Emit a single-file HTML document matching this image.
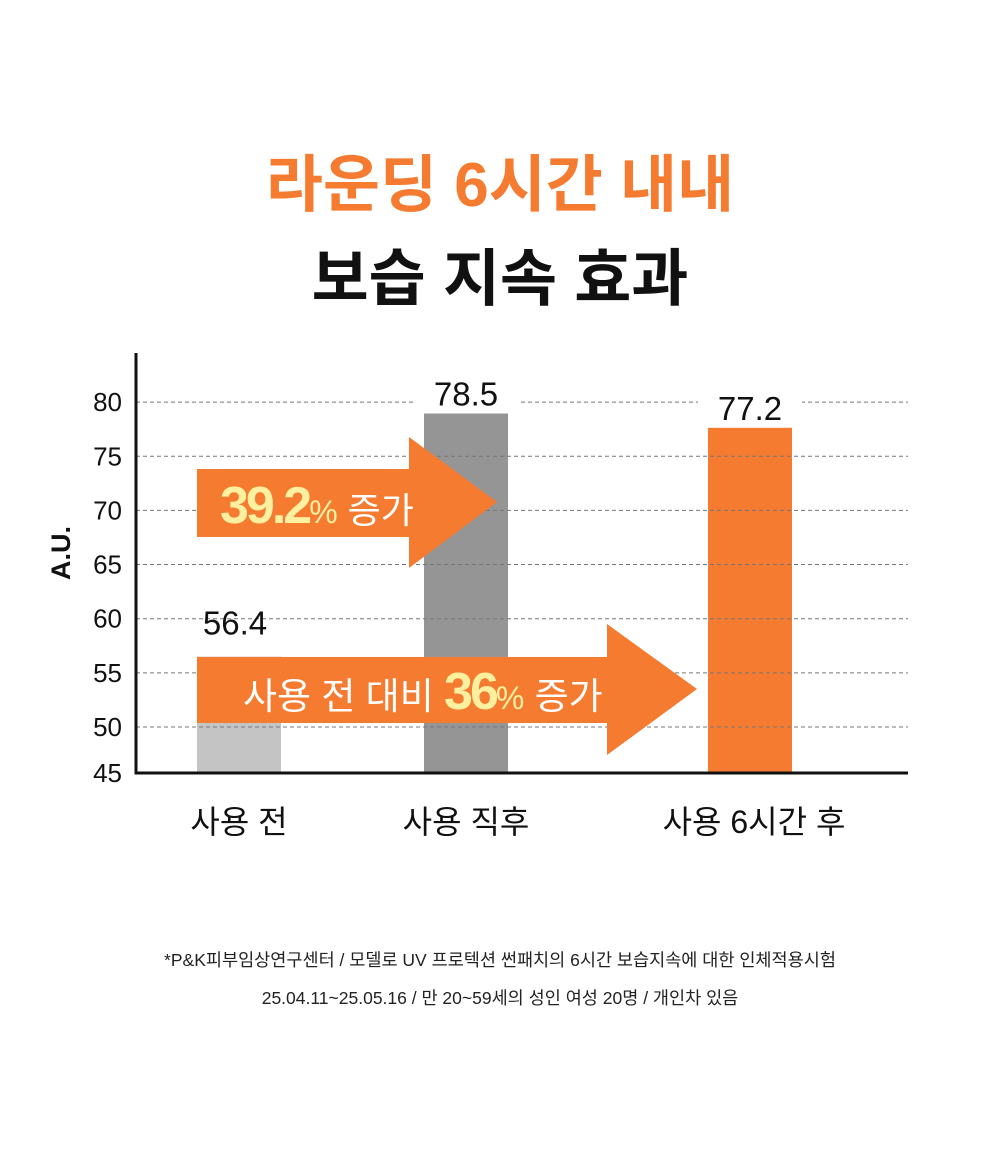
<!DOCTYPE html>
<html><head><meta charset="utf-8"><style>
body{margin:0;background:#fff;}
svg{display:block;font-family:"Liberation Sans","Noto Sans CJK KR",sans-serif;}
</style></head><body>
<svg width="1000" height="1159" viewBox="0 0 1000 1159">
<text x="500" y="206" text-anchor="middle" font-size="62" font-weight="bold" fill="#f47b30">라운딩 6시간 내내</text>
<text x="500" y="300" text-anchor="middle" font-size="62" font-weight="bold" fill="#111">보습 지속 효과</text>
<g id="chart"></g>
<text x="500" y="966" text-anchor="middle" font-size="17.5" fill="#222">*P&amp;K피부임상연구센터 / 모델로 UV 프로텍션 썬패치의 6시간 보습지속에 대한 인체적용시험</text>
<text x="500" y="1004" text-anchor="middle" font-size="17.5" fill="#222">25.04.11~25.05.16 / 만 20~59세의 성인 여성 20명 / 개인차 있음</text>
</svg>
<script>
const categories=["사용 전","사용 직후","사용 6시간 후"];
const values=[56.4,78.5,77.2];
const ticks=[45,50,55,60,65,70,75,80];
const colors=["#c4c4c4","#959595","#f47b30"];
const NS="http://www.w3.org/2000/svg";
const g=document.getElementById("chart");
function y(v){return 727-(v-50)*11.0;}
function gy(v){return 727-(v-50)*10.83;}
const base=773, barX=[197,424,708], bw=84;
function mk(t,a,p){const e=document.createElementNS(NS,t);for(const k in a)e.setAttribute(k,a[k]);(p||g).appendChild(e);return e;}
values.forEach((v,i)=>{
 const r=mk("rect",{x:barX[i],y:y(v),width:bw,height:base-y(v),fill:colors[i]});
 
 
});
ticks.forEach(t=>{
 if(t>45){const l=mk("line",{x1:136,x2:908,y1:gy(t),y2:gy(t),stroke:"#777","stroke-width":1,"stroke-dasharray":"4,3"});
 
 }
 const ty=t===45?base:gy(t);
 const tx=mk("text",{x:122,y:ty+9,"text-anchor":"end","font-size":26,fill:"#111"});tx.textContent=t;
 
 
});
values.forEach((v,i)=>{
 const cx=barX[i]+bw/2, ly=y(v)-8;
 if(i>0){const bg=mk("rect",{x:cx-52,y:ly-32,width:104,height:36,fill:"#fff"});
 
 }
 const t=mk("text",{x:i===0?cx-4:cx,y:i===0?ly-14:ly,"text-anchor":"middle","font-size":33,fill:"#111"});t.textContent=v.toFixed(1);
 
 
 const c=mk("text",{x:cx+(i===2?4:0),y:833,"text-anchor":"middle","font-size":32,fill:"#111"});c.textContent=categories[i];
 
 
});
const ax=mk("path",{d:"M136 353V773H908",fill:"none",stroke:"#111","stroke-width":3});


const yt=mk("text",{x:0,y:0,transform:"translate(70,553) rotate(-90)","text-anchor":"middle","font-size":27,"font-weight":"bold",fill:"#111"});yt.textContent="A.U.";


const a1=mk("polygon",{points:"197,469 409,469 409,437 497,502 409,568 409,537 197,537",fill:"#f47b30"});


const a2=mk("polygon",{points:"197,657 607,657 607,624 697,689 607,755 607,723 197,723",fill:"#f47b30"});


const t1=mk("text",{x:220,y:523,"font-size":36,fill:"#fff"});
t1.innerHTML='<tspan font-size="52" font-weight="bold" fill="#fff0a0" letter-spacing="-3">39.2</tspan><tspan fill="#fff0a0" font-size="32">%</tspan> 증가';


const t2=mk("text",{x:243,y:709,"font-size":37,fill:"#fff"});
t2.innerHTML='사용 전 대비 <tspan font-size="52" font-weight="bold" fill="#fff0a0" letter-spacing="-3">36</tspan><tspan fill="#fff0a0" font-size="32">%</tspan> 증가';


</script>
</body></html>
